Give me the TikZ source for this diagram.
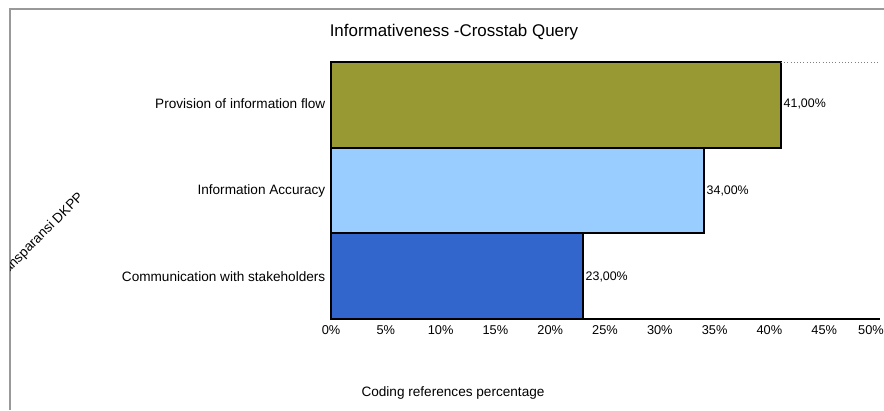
\documentclass[tikz,border=0pt]{standalone}
\usepackage{fontspec}
\setmainfont{Liberation Sans}
\tikzset{
  catlabel/.style={anchor=east, font=\fontsize{10.2}{12}\selectfont},
  vallabel/.style={anchor=west, font=\fontsize{9.3}{11}\selectfont},
  ticklabel/.style={anchor=north, font=\fontsize{9.6}{11}\selectfont},
  bar/.style={draw=black, line width=0.8pt},
}
\begin{document}
\begin{tikzpicture}[x=0.75pt, y=-0.75pt]
        \useasboundingbox (0,0) rectangle (884,410);
        \draw[gray!80, line width=0.8pt] (10,410) -- (10,9) -- (884,9); %frame

        \node (title) at (454,32) {\fontsize{12.7}{15}\selectfont Informativeness -Crosstab Query}; %title

        \draw[bar, fill={rgb,255:red,153;green,153;blue,51}] (331,62) rectangle (781,148); %flow
        \draw[bar, fill={rgb,255:red,153;green,204;blue,255}] (331,148) rectangle (704,233); %accuracy
        \draw[bar, fill={rgb,255:red,51;green,102;blue,204}] (331,233) rectangle (583,319); %stakeholders
        \draw[gray, dotted] (781,62) -- (879,62);

        \node[catlabel] (flow) at (330,104) {Provision of information flow};
        \node[catlabel] (accuracy) at (330,191) {Information Accuracy};
        \node[catlabel] (stake) at (330,277) {Communication with stakeholders};

        \node[vallabel] (v41) at (779,104) {41,00\%};
        \node[vallabel] (v34) at (702,191) {34,00\%};
        \node[vallabel] (v23) at (581,277) {23,00\%};

        \draw[black, line width=0.9pt] (331,319) -- (880,319); %axis
        \foreach \p in {0,5,...,50} {
            \pgfmathsetmacro{\tx}{min(331+\p*10.96,871)}
            \node[ticklabel] (t\p) at (\tx,321) {\p\%};
        }

        \node (xtitle) at (453,393) {\fontsize{10.2}{12}\selectfont Coding references percentage};

        \begin{scope}
            \clip (10.5,0) rectangle (884,410);
            \node[rotate=45, anchor=east, font=\fontsize{10.2}{12}\selectfont] (ytitle) at (85,192) {Transparansi DKPP};
        \end{scope}
\end{tikzpicture}
\end{document}
